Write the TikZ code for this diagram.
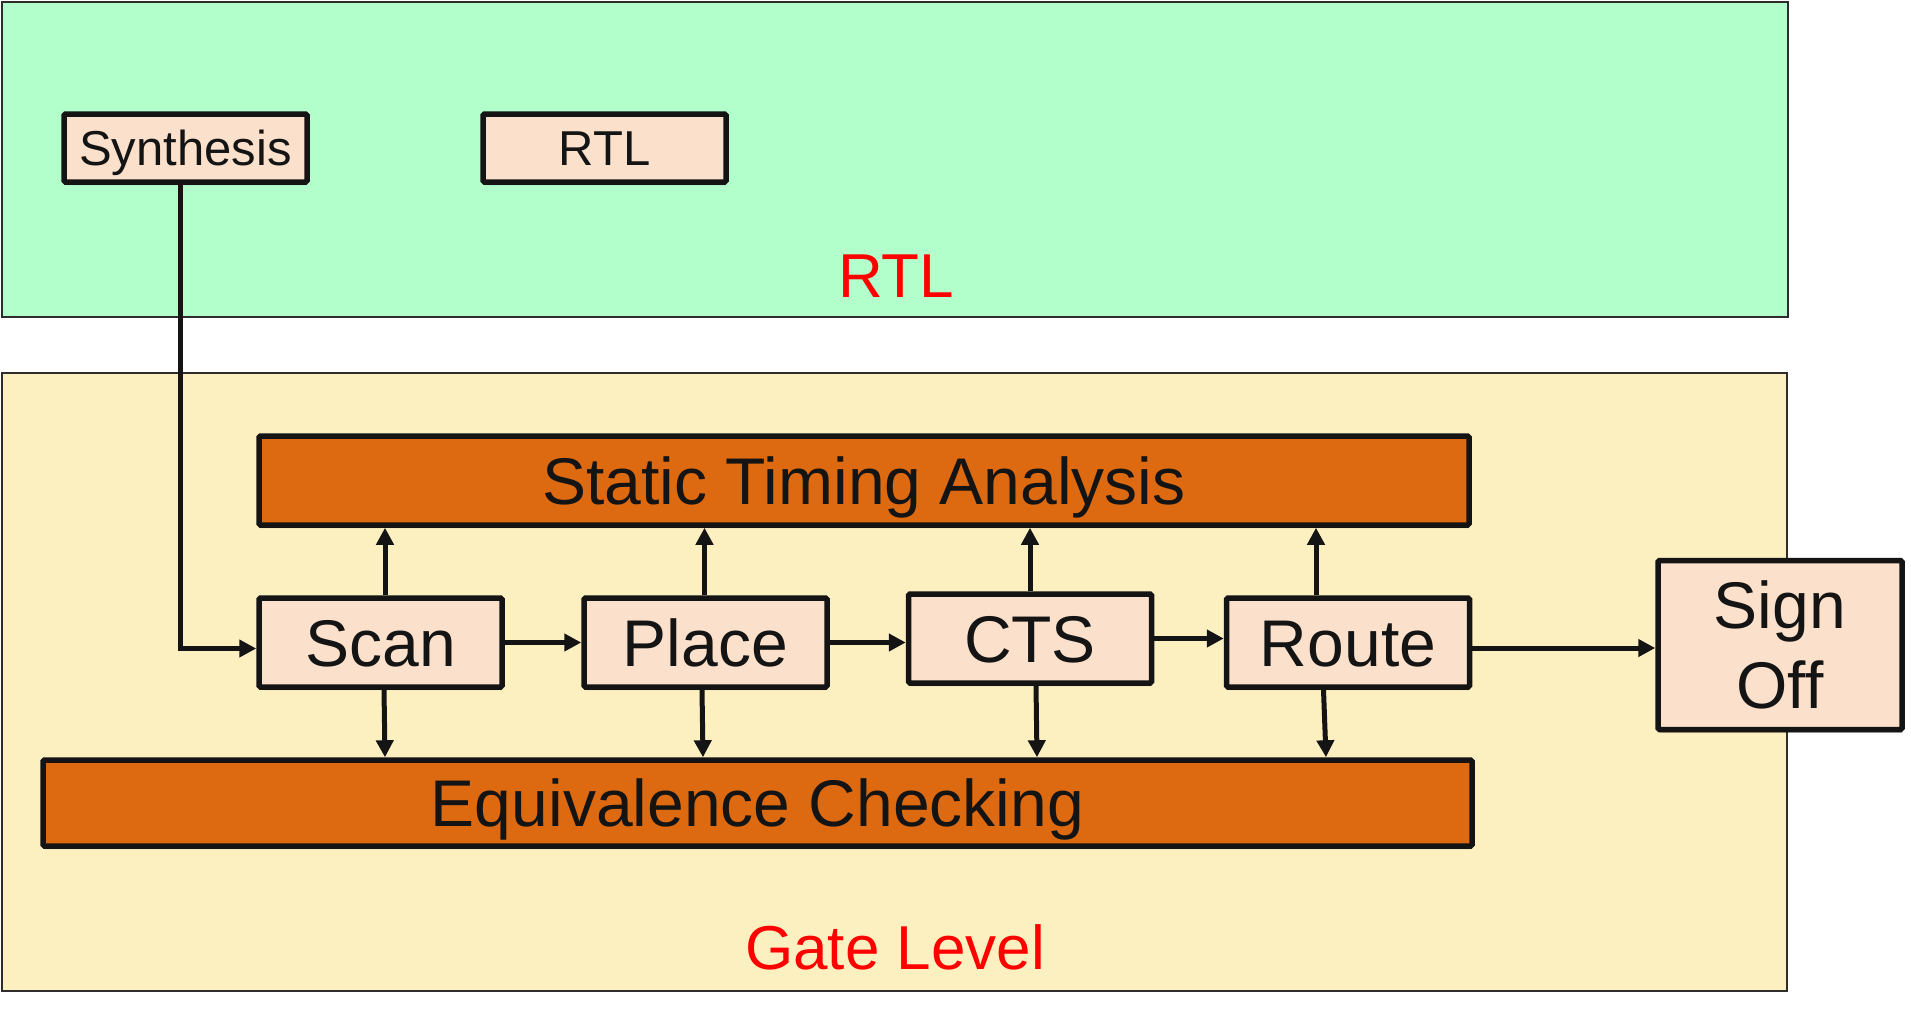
\documentclass[tikz,border=0pt]{standalone}
\usepackage{fontspec}
\setmainfont{Liberation Sans}
\usetikzlibrary{arrows.meta,shadows,calc}
\definecolor{rtlgreen}{RGB}{179,255,204}
\definecolor{gateyellow}{RGB}{253,240,192}
\definecolor{peach}{RGB}{251,224,204}
\definecolor{stepor}{RGB}{221,106,16}
\definecolor{edgegray}{RGB}{45,45,45}
\definecolor{ink}{RGB}{20,20,20}
\begin{document}
\begin{tikzpicture}[x=1pt,y=-1pt,
  region/.style={draw=edgegray, line width=2pt},
  box/.style={draw=ink, line width=5.5pt, rounded corners=1.5pt, fill=peach, inner sep=0pt, text=ink,
    drop shadow={shadow xshift=1pt, shadow yshift=-3pt, opacity=0.3, fill=black!80!brown}},
  smalltxt/.style={font=\fontsize{49}{59}\selectfont, text height=35pt, text depth=0pt},
  bigtxt/.style={font=\fontsize{66}{80}\selectfont, text height=47.5pt, text depth=0pt},
  bar/.style={box, fill=stepor},
  lbl/.style={text=red, font=\fontsize{62}{74}\selectfont, text height=44.5pt, text depth=0pt, inner sep=0pt},
  arr/.style={draw=ink, line width=5pt, -{Triangle[length=17pt,width=17pt]}},
]
\useasboundingbox (0,0) rectangle (1911,1020);
% regions
\draw[region, fill=rtlgreen] (1.5,1.5) rectangle (1788,317);
\draw[region, fill=gateyellow] (1.5,373) rectangle (1787,991);
\node[lbl] (rtllbl) at (896,275) {RTL};
\node[lbl] (gatelbl) at (895,947) {Gate Level};
% nodes
\node[box, smalltxt, minimum width=243pt, minimum height=68pt] (synth) at (185.5,148) {Synthesis};
\node[box, smalltxt, minimum width=243pt, minimum height=68pt] (rtlbox) at (604.5,148) {RTL};
\node[bar, bigtxt, minimum width=1210pt, minimum height=89pt] (sta) at (864,480.5) {Static Timing Analysis};
\node[box, bigtxt, minimum width=243pt, minimum height=89pt] (scan) at (380.5,642.5) {Scan};
\node[box, bigtxt, minimum width=243pt, minimum height=89pt] (place) at (705.5,642.5) {Place};
\node[box, bigtxt, minimum width=243pt, minimum height=89pt] (cts) at (1030,638.5) {CTS};
\node[box, bigtxt, minimum width=243pt, minimum height=89pt] (route) at (1348,642.5) {Route};
\node[box, font=\fontsize{66}{80}\selectfont, align=center, minimum width=244pt, minimum height=169pt] (signoff) at (1780,645) {Sign\\Off};
\node[bar, bigtxt, minimum width=1429pt, minimum height=86pt] (ec) at (757.5,803) {Equivalence Checking};
% connectors
\draw[arr] ([xshift=-5pt]synth.south) |- ([yshift=-6pt]scan.west);
\draw[arr] (scan.east) -- (place.west);
\draw[arr] (place.east) -- (place.east -| cts.west);
\draw[arr] (cts.east) -- (cts.east -| route.west);
\coordinate (re) at ([yshift=-5.5pt]route.east);
\draw[arr] (re) -- (re -| signoff.west);
% up arrows
\coordinate (su1) at ([xshift=4.5pt]scan.north);
\coordinate (su2) at ([xshift=-1pt]place.north);
\coordinate (su3) at (cts.north);
\coordinate (su4) at ([xshift=-32pt]route.north);
\draw[arr] (su1) -- (su1 |- sta.south);
\draw[arr] (su2) -- (su2 |- sta.south);
\draw[arr] (su3) -- (su3 |- sta.south);
\draw[arr] (su4) -- (su4 |- sta.south);
% down arrows
\coordinate (sd1) at ([xshift=3.5pt]scan.south);
\coordinate (sd1e) at ([xshift=4.5pt]scan.south);
\coordinate (sd2) at ([xshift=-3.5pt]place.south);
\coordinate (sd2e) at ([xshift=-2.5pt]place.south);
\coordinate (sd3) at ([xshift=6pt]cts.south);
\coordinate (sd3e) at ([xshift=7pt]cts.south);
\coordinate (sd4) at ([xshift=-24.5pt]route.south);
\coordinate (sd4e) at ([xshift=-22pt]route.south);
\draw[arr] (sd1) -- (sd1e |- ec.north);
\draw[arr] (sd2) -- (sd2e |- ec.north);
\draw[arr] (sd3) -- (sd3e |- ec.north);
\draw[arr] (sd4) -- (sd4e |- ec.north);
\end{tikzpicture}
\end{document}
